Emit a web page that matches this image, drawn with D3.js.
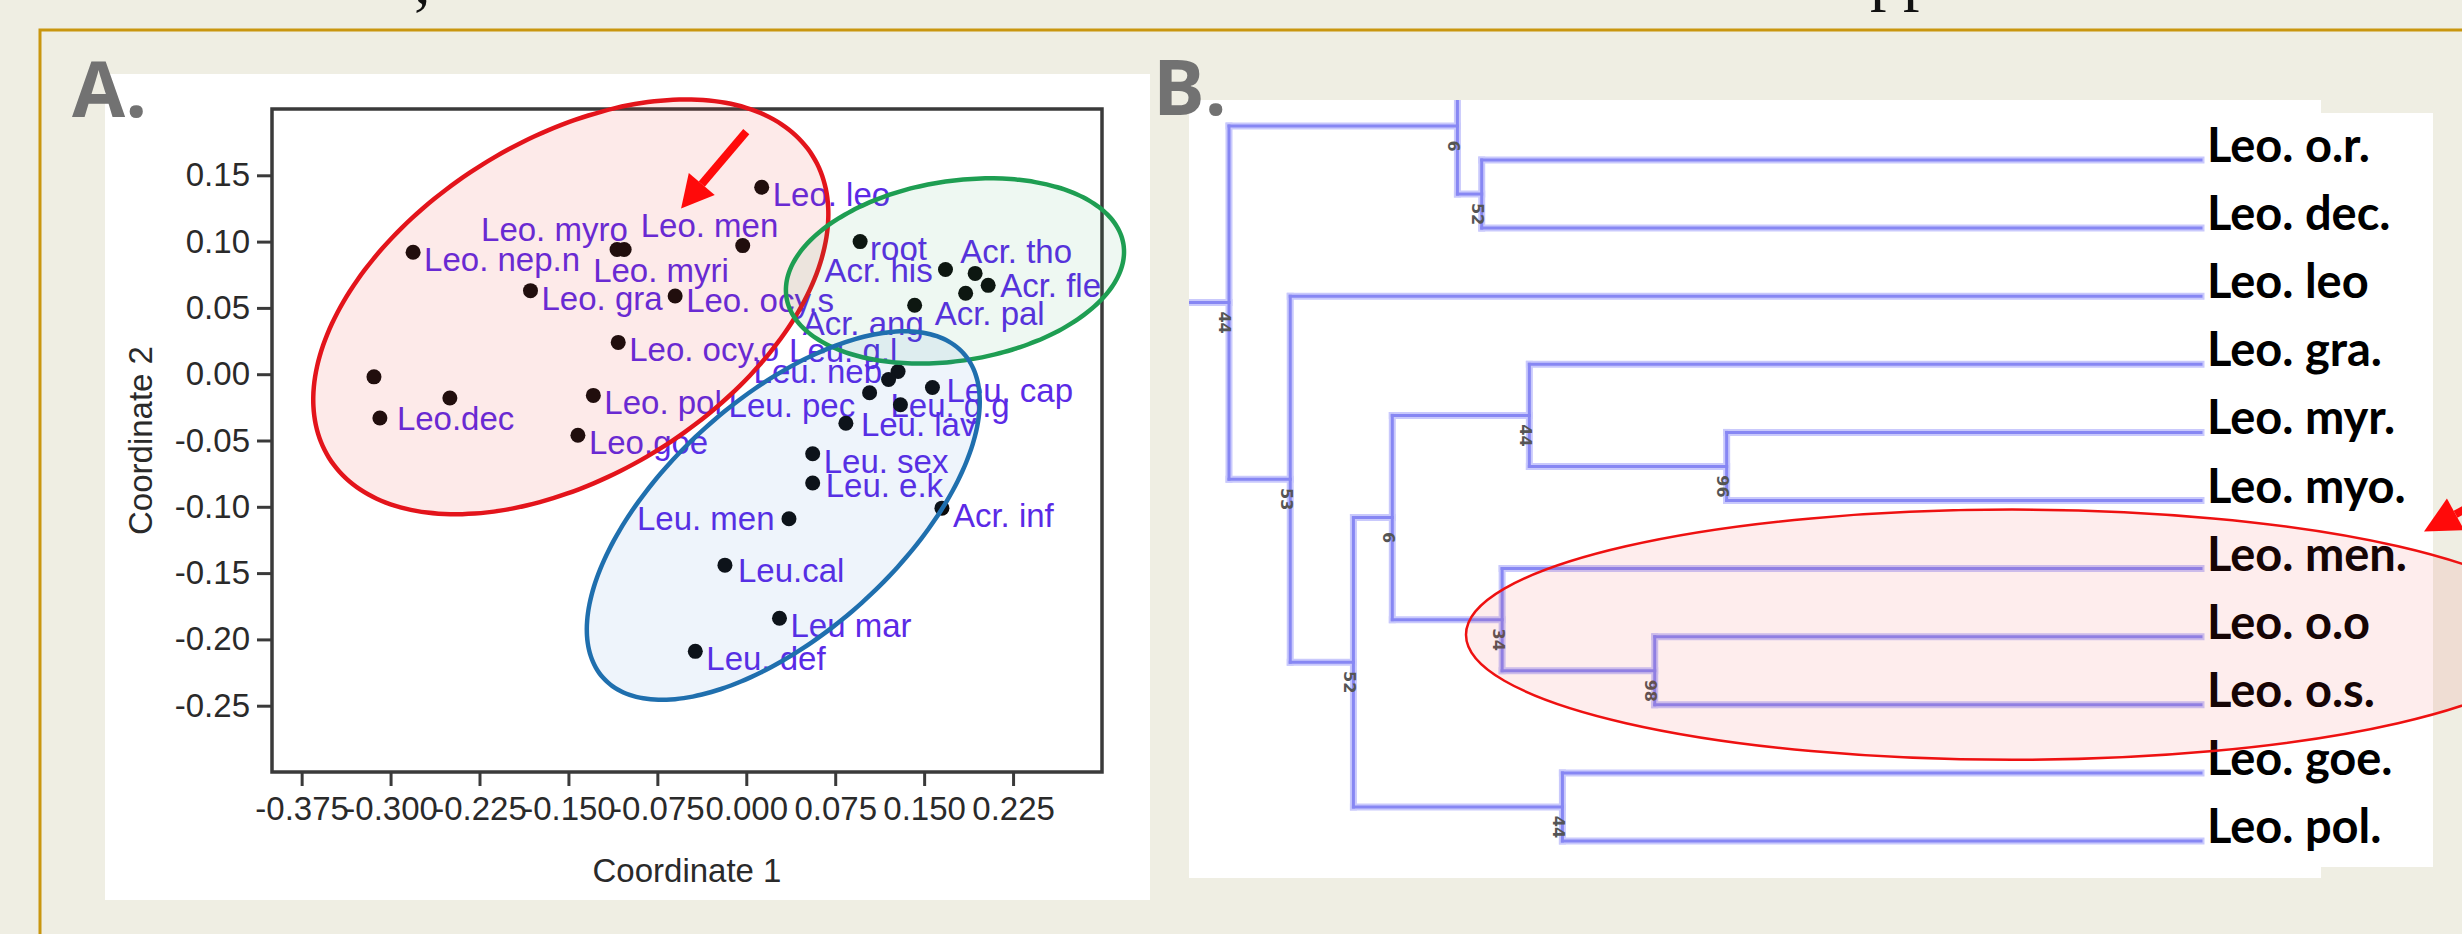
<!DOCTYPE html>
<html>
<head>
<meta charset="utf-8">
<script src="https://cdn.jsdelivr.net/npm/d3@7"></script>
<style>
  html, body { margin: 0; padding: 0; background: #efeee3; }
  svg { display: block; }
</style>
</head>
<body>
<script>
// ---------- panel A : PCoA of the samples ----------
var sampleNames = ["Leo. leo", "Leo. men", "Leo. myro", "Leo. myri", "Leo. nep.n", "Leo. gra",
  "Leo. ocy.s", "Leo. ocy.o", "", "Leo.dec", "", "Leo. pol", "Leo.goe",
  "root", "Acr. his", "Acr. tho", "Acr. fle", "Acr. pal", "Acr. ang",
  "Leu. g.l", "Leu. neb", "Leu. pec", "Leu. cap", "Leu. g.g", "Leu. lav", "Leu. sex",
  "Leu. e.k", "Acr. inf", "Leu. men", "Leu.cal", "Leu mar", "Leu. def"];
var coord1 = [0.013, -0.003, -0.109, -0.103, -0.281, -0.182, -0.060, -0.108, -0.314, -0.309, -0.250,
  -0.129, -0.142, 0.096, 0.168, 0.193, 0.204, 0.185, 0.142, 0.128, 0.120, 0.104, 0.157, 0.130,
  0.084, 0.056, 0.056, 0.165, 0.036, -0.018, 0.028, -0.043];
var coord2 = [0.141, 0.097, 0.094, 0.094, 0.092, 0.063, 0.059, 0.024, -0.002, -0.033, -0.018,
  -0.016, -0.046, 0.100, 0.079, 0.076, 0.067, 0.061, 0.052, 0.002, -0.004, -0.014, -0.010, -0.023,
  -0.037, -0.060, -0.082, -0.101, -0.109, -0.144, -0.184, -0.209];
var xTicks = [-0.375, -0.300, -0.225, -0.150, -0.075, 0.000, 0.075, 0.150, 0.225];
var yTicks = [0.15, 0.10, 0.05, 0.00, -0.05, -0.10, -0.15, -0.20, -0.25];

// group ellipses (centre and the two semi-axis vectors, data units)
var groupCentre = [[-0.148, 0.0508], [0.176, 0.0779], [0.0312, -0.1066]];
var groupAxisU = [[0.204, 0.1138], [0.1421, 0.01995], [0.1519, 0.1224]];
var groupAxisV = [[0.0746, -0.1073], [0.0117, -0.0669], [0.0662, -0.0658]];
var groupStroke = ["#e3141b", "#1e9e52", "#1f6fae"];
var groupFill = ["rgba(240,50,40,0.10)", "rgba(40,170,90,0.08)", "rgba(40,110,200,0.08)"];

// ---------- panel B : dendrogram ----------
var leafNames = ["Leo. o.r.", "Leo. dec.", "Leo. leo", "Leo. gra.", "Leo. myr.", "Leo. myo.",
  "Leo. men.", "Leo. o.o", "Leo. o.s.", "Leo. goe.", "Leo. pol."];
// d = node distance from the root (leaves at 1), b = support value
var tree = {d: 0, b: "44", children: [
  {d: 0.235, b: "6", children: [
    {d: 0.48, children: [{name: ""}, {name: ""}]},
    {d: 0.260, b: "52", children: [{name: "Leo. o.r."}, {name: "Leo. dec."}]}
  ]},
  {d: 0.063, b: "53", children: [
    {name: "Leo. leo"},
    {d: 0.128, b: "52", children: [
      {d: 0.168, b: "6", children: [
        {d: 0.309, b: "44", children: [
          {name: "Leo. gra."},
          {d: 0.512, b: "96", children: [{name: "Leo. myr."}, {name: "Leo. myo."}]}
        ]},
        {d: 0.281, b: "34", children: [
          {name: "Leo. men."},
          {d: 0.438, b: "98", children: [{name: "Leo. o.o"}, {name: "Leo. o.s."}]}
        ]}
      ]},
      {d: 0.343, b: "44", children: [{name: "Leo. goe."}, {name: "Leo. pol."}]}
    ]}
  ]}
]};

// label nudges for the scatter (px, left edge / baseline relative to the point)
var defaultNudge = [11, 19];
var labelNudge = {
  "Leo. men": [-102, -9], "Leo. myro": [-136, -9], "Leo. myri": [-31, 32],
  "Leo. ocy.s": [11, 16], "Leo.dec": [17, 12], "root": [10, 18],
  "Acr. his": [-121, 13], "Acr. tho": [-15, -10], "Acr. fle": [12, 12],
  "Acr. pal": [-31, 32], "Acr. ang": [-112, 30], "Leu. g.l": [-109, -10],
  "Leu. neb": [-135, 3], "Leu. pec": [-141, 24], "Leu. cap": [14, 15],
  "Leu. g.g": [-10, 12], "Leu. lav": [15, 13], "Leu. e.k": [13, 14], "Leu.cal": [13, 17],
  "Leu. men": [-152, 11]
};

var W = 2462, H = 934;
var svg = d3.select("body").append("svg").attr("width", W).attr("height", H);

svg.append("rect").attr("width", W).attr("height", H).attr("fill", "#efeee3");

// cut-off slide title above the frame
svg.append("text").attr("x", 414).attr("y", 3)
  .attr("font-family", "Liberation Serif").attr("font-size", 66).attr("fill", "#111").text(",");
svg.append("text").attr("x", 1870).attr("y", -2)
  .attr("font-family", "Liberation Serif").attr("font-size", 66).attr("fill", "#111").text("pp");

svg.append("path").attr("d", "M40,934V30H2462")
  .attr("fill", "none").attr("stroke", "#c9960f").attr("stroke-width", 3);

// ================= panel A =================
svg.append("rect").attr("x", 105).attr("y", 74).attr("width", 1045).attr("height", 826).attr("fill", "#fff");
svg.append("text").attr("x", 72).attr("y", 117)
  .attr("font-family", "Open Sans").attr("font-weight", 700).attr("font-size", 77)
  .attr("fill", "#727272").text("A.");

var x = d3.scaleLinear().domain([-0.40, 0.30]).range([272, 1102]);
var y = d3.scaleLinear().domain([-0.30, 0.20]).range([772, 109]);

// R prints a plain hyphen for negatives
var loc = d3.formatLocale({decimal: ".", thousands: ",", grouping: [3], currency: ["", ""], minus: "-"});

var gA = svg.append("g").attr("font-family", "Liberation Sans, Arial, sans-serif");

gA.append("g")
  .attr("transform", "translate(0,772)")
  .call(d3.axisBottom(x).tickValues(xTicks).tickSize(14).tickPadding(11).tickFormat(loc.format(".3f")))
  .call(function(g) {
    g.select(".domain").remove();
    g.selectAll("line").attr("stroke", "#3a3a3a").attr("stroke-width", 3);
    g.selectAll("text").attr("font-size", 33).attr("fill", "#2a2a2a").attr("font-family", null);
  });

gA.append("g")
  .attr("transform", "translate(272,0)")
  .call(d3.axisLeft(y).tickValues(yTicks).tickSize(15).tickPadding(7).tickFormat(loc.format(".2f")))
  .call(function(g) {
    g.select(".domain").remove();
    g.selectAll("line").attr("stroke", "#3a3a3a").attr("stroke-width", 3);
    g.selectAll("text").attr("font-size", 33).attr("fill", "#2a2a2a").attr("font-family", null);
  });

gA.append("rect")
  .attr("x", x(-0.40)).attr("y", y(0.20))
  .attr("width", x(0.30) - x(-0.40)).attr("height", y(-0.30) - y(0.20))
  .attr("fill", "none").attr("stroke", "#3a3a3a").attr("stroke-width", 3.5);

gA.append("text").attr("x", (x(-0.40) + x(0.30)) / 2).attr("y", 882)
  .attr("text-anchor", "middle").attr("font-size", 33).attr("fill", "#2a2a2a").text("Coordinate 1");
gA.append("text")
  .attr("transform", "translate(152," + (y(-0.30) + y(0.20)) / 2 + ") rotate(-90)")
  .attr("text-anchor", "middle").attr("font-size", 33).attr("fill", "#2a2a2a").text("Coordinate 2");

var samples = sampleNames.map(function(n, i) { return {name: n, c1: coord1[i], c2: coord2[i]}; });

gA.selectAll(".lab")
  .data(samples.filter(function(d) { return d.name !== ""; }))
  .enter().append("text")
  .attr("class", "lab")
  .attr("x", function(d) { return x(d.c1) + (labelNudge[d.name] || defaultNudge)[0]; })
  .attr("y", function(d) { return y(d.c2) + (labelNudge[d.name] || defaultNudge)[1]; })
  .attr("font-size", 33).attr("fill", "#5b2ae6")
  .text(function(d) { return d.name; });

gA.selectAll(".pt")
  .data(samples)
  .enter().append("circle")
  .attr("class", "pt")
  .attr("cx", function(d) { return x(d.c1); })
  .attr("cy", function(d) { return y(d.c2); })
  .attr("r", 7.5).attr("fill", "#0b0b0b");

function ellipsePath(c, u, v) {
  var pts = d3.range(0, 360, 3).map(function(t) {
    var a = t * Math.PI / 180;
    return [x(c[0] + u[0] * Math.cos(a) + v[0] * Math.sin(a)),
            y(c[1] + u[1] * Math.cos(a) + v[1] * Math.sin(a))];
  });
  return d3.line().curve(d3.curveCardinalClosed)(pts);
}

gA.selectAll(".ell")
  .data(groupCentre)
  .enter().append("path")
  .attr("class", "ell")
  .attr("d", function(c, i) { return ellipsePath(c, groupAxisU[i], groupAxisV[i]); })
  .attr("fill", function(c, i) { return groupFill[i]; })
  .attr("stroke", function(c, i) { return groupStroke[i]; })
  .attr("stroke-width", 4.5);

function arrow(g, x1, y1, x2, y2, w, hl, hw) {
  var a = Math.atan2(y2 - y1, x2 - x1);
  var bx = x2 - hl * Math.cos(a), by = y2 - hl * Math.sin(a);
  g.append("line").attr("x1", x1).attr("y1", y1).attr("x2", bx).attr("y2", by)
    .attr("stroke", "#ff0a0a").attr("stroke-width", w);
  g.append("path")
    .attr("d", "M" + x2 + "," + y2 +
      "L" + (bx - hw * Math.sin(a)) + "," + (by + hw * Math.cos(a)) +
      "L" + (bx + hw * Math.sin(a)) + "," + (by - hw * Math.cos(a)) + "Z")
    .attr("fill", "#ff0a0a");
}
arrow(gA, x(0.0), y(0.183), x(-0.055), y(0.125), 8, 32, 17);

// ================= panel B =================
svg.append("rect").attr("x", 1189).attr("y", 100).attr("width", 1132).attr("height", 778).attr("fill", "#fff");
svg.append("rect").attr("x", 2180).attr("y", 113).attr("width", 253).attr("height", 754).attr("fill", "#fff");
svg.append("text").attr("x", 1153).attr("y", 115)
  .attr("font-family", "Open Sans").attr("font-weight", 700).attr("font-size", 77)
  .attr("fill", "#727272").text("B.");

var xB = d3.scaleLinear().domain([0, 1]).range([1229, 2201]);
var yB = d3.scaleLinear().domain([0, leafNames.length - 1]).range([160, 841]);

var root = d3.hierarchy(tree);
var li = -2;
root.eachAfter(function(n) {
  if (!n.children) { n.py = yB(li); li += 1; n.px = xB(1); }
  else {
    n.py = (n.children[0].py + n.children[n.children.length - 1].py) / 2;
    n.px = xB(n.data.d);
  }
});

svg.append("clipPath").attr("id", "clipB")
  .append("rect").attr("x", 1189).attr("y", 100).attr("width", 1132).attr("height", 778);

var gB = svg.append("g").attr("clip-path", "url(#clipB)");

var segs = [[xB(-0.06), root.py, root.px, root.py]];
root.each(function(n) {
  if (!n.children) return;
  var c0 = n.children[0], c1 = n.children[n.children.length - 1];
  segs.push([n.px, c0.py, n.px, c1.py]);
  n.children.forEach(function(c) { segs.push([n.px, c.py, c.px, c.py]); });
});

[["#c9c9fc", 7], ["#8787f3", 3]].forEach(function(s) {
  gB.selectAll(null).data(segs).enter().append("line")
    .attr("x1", function(d) { return d[0]; }).attr("y1", function(d) { return d[1]; })
    .attr("x2", function(d) { return d[2]; }).attr("y2", function(d) { return d[3]; })
    .attr("stroke", s[0]).attr("stroke-width", s[1]).attr("stroke-linecap", "square");
});

gB.selectAll(".boot")
  .data(root.descendants().filter(function(n) { return n.children && n.data.b; }))
  .enter().append("text")
  .attr("class", "boot")
  .attr("transform", function(n) { return "translate(" + (n.px - 4) + "," + (n.py + 20) + ") rotate(90)"; })
  .attr("text-anchor", "middle").attr("dy", "0.35em")
  .attr("font-family", "DejaVu Sans").attr("font-weight", 700).attr("font-size", 16).attr("fill", "#555")
  .text(function(n) { return n.data.b; });

svg.selectAll(".leaf")
  .data(root.leaves().filter(function(n) { return n.data.name; }))
  .enter().append("text")
  .attr("class", "leaf")
  .attr("x", xB(1) + 6).attr("y", function(n) { return n.py + 2; })
  .attr("font-family", "Lato").attr("font-weight", 700).attr("font-size", 47).attr("fill", "#000")
  .text(function(n) { return n.data.name; });

// highlight of the Leo. men. clade
var men = yB(leafNames.indexOf("Leo. men.")), os = yB(leafNames.indexOf("Leo. o.s."));
svg.append("ellipse")
  .attr("cx", 2012).attr("cy", (men + os) / 2 - 2)
  .attr("rx", 546).attr("ry", (os - men) / 2 + 57)
  .attr("fill", "rgba(240,60,60,0.09)").attr("stroke", "#ee1111").attr("stroke-width", 2.5);

arrow(svg, 2500, 490, 2424, men - 37, 8, 36, 18);
</script>
</body>
</html>
